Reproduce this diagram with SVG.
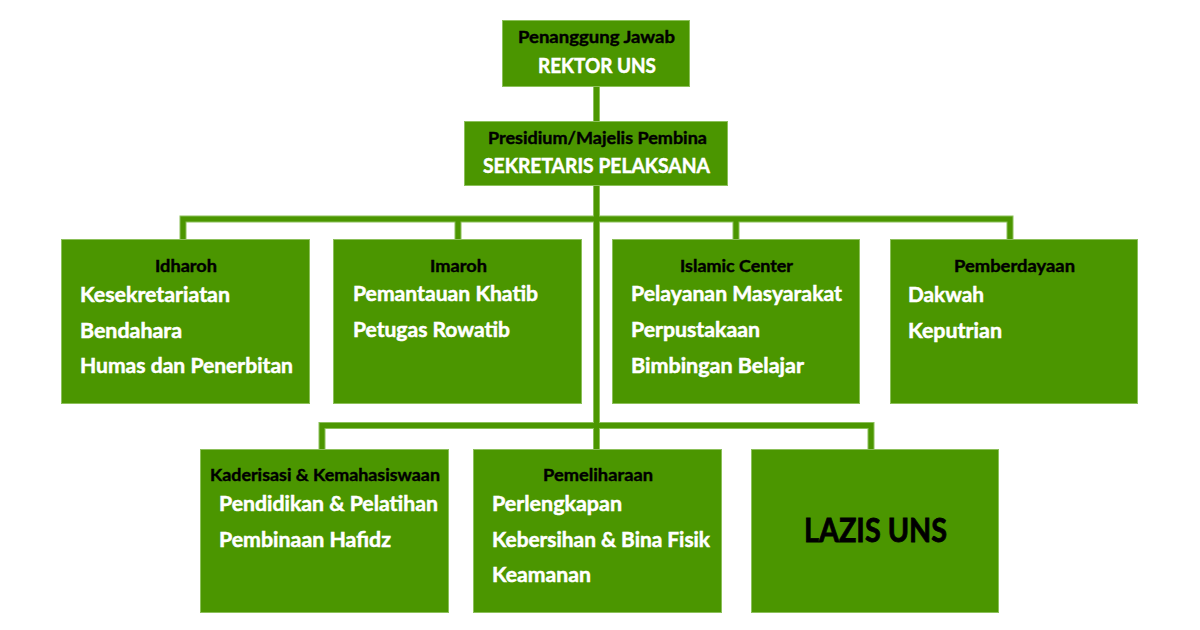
<svg xmlns="http://www.w3.org/2000/svg" width="1200" height="630" viewBox="0 0 1200 630">
<style>
.box{fill:#4b9600;stroke:#8cc05a;stroke-width:1}
.eo{fill:none;stroke:#8cc05a;stroke-width:7}
.ei{fill:none;stroke:#4b9600;stroke-width:5}
.h{font-family:Lato,"Open Sans",sans-serif;font-weight:700;fill:#000;stroke:#000;stroke-width:0.4;font-size:17px}
.w{font-family:Lato,"Open Sans",sans-serif;font-weight:700;fill:#fff;stroke:#fff;stroke-width:0.5;font-size:21px}
.t{font-family:Lato,"Open Sans",sans-serif;font-weight:700;fill:#fff;stroke:#fff;stroke-width:0.5;font-size:21px}
.big{font-family:Lato,"Open Sans",sans-serif;font-weight:700;fill:#000;stroke:#000;stroke-width:0.8;font-size:33px}
</style>
<rect width="1200" height="630" fill="#fff"/>
<g id="connectors">
<path class="eo" d="M596.5 87V449M183 239V219H1010V239M458 219V239M736 219V239M322 449V425.5H871V449"/>
<path class="ei" d="M596.5 87V449M183 239V219H1010V239M458 219V239M736 219V239M322 449V425.5H871V449"/>
</g>
<g id="rektor">
<rect class="box" x="502.5" y="20.5" width="187" height="66"/>
<text class="h" x="518" y="43" textLength="157" lengthAdjust="spacingAndGlyphs">Penanggung Jawab</text>
<text class="w" x="538" y="73" textLength="118" lengthAdjust="spacingAndGlyphs">REKTOR UNS</text>
</g>
<g id="sekretaris">
<rect class="box" x="464.5" y="121.5" width="263" height="64"/>
<text class="h" x="488" y="144" textLength="219" lengthAdjust="spacingAndGlyphs">Presidium/Majelis Pembina</text>
<text class="w" x="483" y="173" textLength="227" lengthAdjust="spacingAndGlyphs">SEKRETARIS PELAKSANA</text>
</g>
<g id="idharoh">
<rect class="box" x="61.5" y="239.5" width="248" height="164"/>
<text class="h" x="155" y="272" textLength="62" lengthAdjust="spacingAndGlyphs">Idharoh</text>
<text class="t" x="80" y="302" textLength="150" lengthAdjust="spacingAndGlyphs">Kesekretariatan</text>
<text class="t" x="80" y="338" textLength="102" lengthAdjust="spacingAndGlyphs">Bendahara</text>
<text class="t" x="80" y="373" textLength="213" lengthAdjust="spacingAndGlyphs">Humas dan Penerbitan</text>
</g>
<g id="imaroh">
<rect class="box" x="333.5" y="239.5" width="248" height="164"/>
<text class="h" x="430" y="272" textLength="57" lengthAdjust="spacingAndGlyphs">Imaroh</text>
<text class="t" x="353" y="301" textLength="185" lengthAdjust="spacingAndGlyphs">Pemantauan Khatib</text>
<text class="t" x="353" y="337" textLength="157" lengthAdjust="spacingAndGlyphs">Petugas Rowatib</text>
</g>
<g id="islamic-center">
<rect class="box" x="612.5" y="239.5" width="247" height="164"/>
<text class="h" x="680" y="272" textLength="113" lengthAdjust="spacingAndGlyphs">Islamic Center</text>
<text class="t" x="631" y="301" textLength="211" lengthAdjust="spacingAndGlyphs">Pelayanan Masyarakat</text>
<text class="t" x="631" y="337" textLength="129" lengthAdjust="spacingAndGlyphs">Perpustakaan</text>
<text class="t" x="631" y="373" textLength="173" lengthAdjust="spacingAndGlyphs">Bimbingan Belajar</text>
</g>
<g id="pemberdayaan">
<rect class="box" x="890.5" y="239.5" width="247" height="164"/>
<text class="h" x="954" y="272" textLength="121" lengthAdjust="spacingAndGlyphs">Pemberdayaan</text>
<text class="t" x="908" y="302" textLength="76" lengthAdjust="spacingAndGlyphs">Dakwah</text>
<text class="t" x="908" y="338" textLength="94" lengthAdjust="spacingAndGlyphs">Keputrian</text>
</g>
<g id="kaderisasi">
<rect class="box" x="200.5" y="449.5" width="248" height="163"/>
<text class="h" x="210" y="481" textLength="230" lengthAdjust="spacingAndGlyphs">Kaderisasi &amp; Kemahasiswaan</text>
<text class="t" x="219" y="511" textLength="219" lengthAdjust="spacingAndGlyphs">Pendidikan &amp; Pelatihan</text>
<text class="t" x="219" y="547" textLength="172" lengthAdjust="spacingAndGlyphs">Pembinaan Hafidz</text>
</g>
<g id="pemeliharaan">
<rect class="box" x="473.5" y="449.5" width="248" height="163"/>
<text class="h" x="543" y="481" textLength="110" lengthAdjust="spacingAndGlyphs">Pemeliharaan</text>
<text class="t" x="492" y="511" textLength="130" lengthAdjust="spacingAndGlyphs">Perlengkapan</text>
<text class="t" x="492" y="547" textLength="218" lengthAdjust="spacingAndGlyphs">Kebersihan &amp; Bina Fisik</text>
<text class="t" x="492" y="582" textLength="99" lengthAdjust="spacingAndGlyphs">Keamanan</text>
</g>
<g id="lazis">
<rect class="box" x="751.5" y="449.5" width="247" height="163"/>
<text class="big" x="804" y="542" textLength="143" lengthAdjust="spacingAndGlyphs">LAZIS UNS</text>
</g>
</svg>
